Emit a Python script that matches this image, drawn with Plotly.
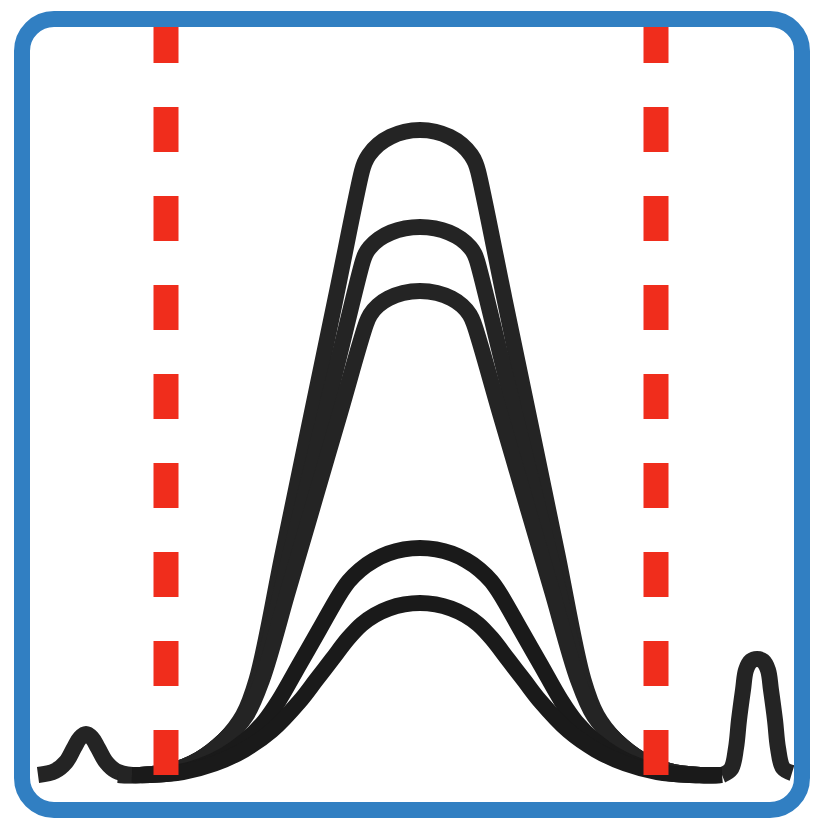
import plotly.graph_objects as go

# canvas units = pixels of the 822x831 icon, y grows downwards
W, H = 822, 831
PAGE_MARGIN = 8  # default body margin of the html page

# small side peaks
left_bump_x = [38, 55, 66, 74, 80, 86, 92, 98, 106, 116, 132]
left_bump_y = [775, 771, 762, 748, 738, 734, 738, 748, 762, 771, 775]
right_bump_x = [722, 731, 736, 739, 743, 746, 751, 757, 763, 768, 771, 775, 778, 783, 792]
right_bump_y = [775, 769, 748, 720, 690, 670, 661, 659, 661, 670, 690, 720, 748, 768, 773]

# three tall flat-topped peaks
peak_a_x = [118, 140, 170.8, 199.5, 224.1, 243, 256.5, 282.9, 309.2, 335.6, 361.9, 364.6, 368.9, 378.3, 390.5, 404.7, 420,
            435.3, 449.5, 461.7, 471.1, 475.4, 478.1, 504.4, 530.8, 557.1, 583.5, 597, 615.9, 640.5, 669.2, 700, 722]
peak_a_y = [775, 775, 770.9, 759.1, 740.1, 715.5, 680.1, 552.9, 425.7, 298.5, 171.3, 162.9, 155, 144.6, 136.7, 131.7, 130,
            131.7, 136.7, 144.6, 155, 162.9, 171.3, 298.5, 425.7, 552.9, 680.1, 715.5, 740.1, 759.1, 770.9, 775, 775]
peak_b_x = [118, 140, 170.8, 199.5, 224.1, 245, 259, 285, 311, 336.9, 362.9, 365.5, 369.8, 379, 391, 405, 420,
            435, 449, 461, 470.2, 474.5, 477.1, 503.1, 529, 555, 581, 595, 615.9, 640.5, 669.2, 700, 722]
peak_b_y = [775, 775, 770.9, 759.1, 740.1, 716, 680, 575.2, 470.5, 365.7, 260.9, 254, 247.5, 239, 232.5, 228.4, 227,
            228.4, 232.5, 239, 247.5, 254, 260.9, 365.7, 470.5, 575.2, 680, 716, 740.1, 759.1, 770.9, 775, 775]
peak_c_x = [118, 140, 170.8, 199.5, 224.1, 246, 262, 288.1, 314.2, 340.2, 366.3, 370.2, 377.9, 388.5, 403, 420,
            437, 451.5, 462.1, 469.8, 473.7, 499.8, 525.8, 551.9, 578, 594, 615.9, 640.5, 669.2, 700, 722]
peak_c_y = [775, 775, 770.9, 759.1, 740.1, 716, 680, 590.8, 501.6, 412.4, 323.2, 314.7, 305.6, 298.4, 293, 291,
            293, 298.4, 305.6, 314.7, 323.2, 412.4, 501.6, 590.8, 680, 716, 740.1, 759.1, 770.9, 775, 775]

# two low rounded peaks (they also carry the baseline)
peak_d_x = [132, 150, 175.8, 200.9, 224.4, 245.6, 263.9, 278.8, 299, 319, 339.5, 348.8, 360.2, 373.5, 388.2, 403.9, 420,
            436.1, 451.8, 466.5, 479.8, 491.2, 500.5, 521, 541, 561.2, 576.1, 594.4, 615.6, 639.1, 664.2, 690, 722]
peak_d_y = [775, 775, 772.7, 766, 755.1, 740.2, 721.9, 700.6, 665.3, 630.3, 594.5, 581.2, 569.8, 560.5, 553.6, 549.4, 548,
            549.4, 553.6, 560.5, 569.8, 581.2, 594.5, 630.3, 665.3, 700.6, 721.9, 740.2, 755.1, 766, 772.7, 775, 775]
peak_e_x = [132, 150, 182.8, 214.6, 244.5, 271.5, 299.7, 316, 332, 348.3, 361.8, 374.75, 389, 404.3, 420,
            435.7, 451, 465.25, 478.2, 491.7, 508, 524, 540.3, 568.5, 595.5, 625.4, 657.2, 690, 722]
peak_e_y = [775, 775, 772.1, 763.6, 749.7, 730.8, 701.3, 680.2, 659.4, 638.3, 624.2, 615.1, 608.5, 604.4, 603,
            604.4, 608.5, 615.1, 624.2, 638.3, 659.4, 680.2, 701.3, 730.8, 749.7, 763.6, 772.1, 775, 775]

# red dashed markers
marker_x = [166, 656]
marker_top, marker_bottom = 18, 775

gray = '#242424'
dark = '#1a1a1a'
red = '#f02d1c'
blue = '#317fc2'

fig = go.Figure()

curves = [
    (left_bump_x, left_bump_y, gray),
    (right_bump_x, right_bump_y, gray),
    (peak_a_x, peak_a_y, gray),
    (peak_b_x, peak_b_y, gray),
    (peak_c_x, peak_c_y, gray),
    (peak_d_x, peak_d_y, dark),
    (peak_e_x, peak_e_y, dark),
]
for xs, ys, col in curves:
    fig.add_trace(go.Scatter(x=xs, y=ys, mode='lines',
                             line=dict(color=col, width=16, shape='spline',
                                       smoothing=1, simplify=False),
                             hoverinfo='skip'))

for mx in marker_x:
    fig.add_trace(go.Scatter(x=[mx, mx], y=[marker_top, marker_bottom], mode='lines',
                             line=dict(color=red, width=25, dash='45px,44px'),
                             hoverinfo='skip'))

# rounded frame
x0, x1, y0, y1, r = 22, 802, 19, 810, 32
k = r * 0.448
frame = (f'M {x0 + r},{y0} L {x1 - r},{y0} '
         f'C {x1 - k},{y0} {x1},{y0 + k} {x1},{y0 + r} '
         f'L {x1},{y1 - r} C {x1},{y1 - k} {x1 - k},{y1} {x1 - r},{y1} '
         f'L {x0 + r},{y1} C {x0 + k},{y1} {x0},{y1 - k} {x0},{y1 - r} '
         f'L {x0},{y0 + r} C {x0},{y0 + k} {x0 + k},{y0} {x0 + r},{y0} Z')
fig.add_shape(type='path', path=frame, xref='x', yref='y', layer='above',
              line=dict(color=blue, width=16))

# the page puts the plot 8px in, so the axes start at 8 to keep pixel = unit
m = PAGE_MARGIN
fig.update_layout(width=W - m, height=H - m, margin=dict(l=0, r=0, t=0, b=0),
                  paper_bgcolor='white', plot_bgcolor='white', showlegend=False,
                  xaxis=dict(range=[m, W], visible=False, fixedrange=True),
                  yaxis=dict(range=[H, m], visible=False, fixedrange=True))

fig.write_html('out.html', config=dict(displayModeBar=False))
